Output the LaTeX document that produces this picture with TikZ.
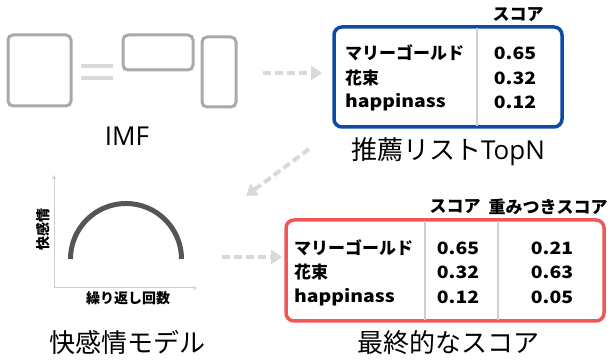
\documentclass[tikz,border=0pt]{standalone}
\usepackage{fontspec}
\setmainfont{Noto Sans CJK JP}
\newfontfamily\lat{Open Sans}
\newfontfamily\latb[FakeStretch=1.14]{Noto Sans CJK JP}
\usetikzlibrary{arrows.meta}
\definecolor{imfgray}{HTML}{A9A9A9}
\definecolor{arrgray}{HTML}{D9D9D9}
\definecolor{axisgray}{HTML}{CFCFCF}
\definecolor{arcgray}{HTML}{555555}
\definecolor{bluebox}{HTML}{0D4AA6}
\definecolor{redbox}{HTML}{F05757}
\definecolor{divgray}{HTML}{D0D0D0}
\tikzset{
  imfbox/.style={draw=imfgray, line width=3pt, rounded corners=5pt},
  eqbar/.style={draw=arrgray, line width=4pt},
  flowarrow/.style={draw=arrgray, line width=4pt, dash pattern=on 8pt off 4pt, -{Triangle[length=11pt,width=14pt,fill=arrgray]}},
  title/.style={font=\fontsize{26}{30}\selectfont, text=black, inner sep=0pt},
  cell/.style={font=\bfseries\fontsize{17}{20}\selectfont, inner sep=0pt},
  lcell/.style={font=\latb\bfseries\fontsize{17}{20}\selectfont, inner sep=0pt},
  axislabel/.style={font=\bfseries\fontsize{14}{16}\selectfont, inner sep=0pt},
  axisline/.style={draw=axisgray, line width=1pt, -{Stealth[length=4pt,width=4pt]}},
  tablebox/.style={line width=3.5pt, rounded corners=8pt},
  divider/.style={draw=divgray, line width=1.2pt}
}
\begin{document}
\begin{tikzpicture}[x=1pt,y=-1pt]
\useasboundingbox (0,0) rectangle (611,363);
% IMF
\draw[imfbox] (8,35) rectangle (71,106);
\draw[eqbar] (81,66) -- (113,66);
\draw[eqbar] (81,78) -- (113,78);
\draw[imfbox] (123,35) rectangle (193,70);
\draw[imfbox] (202,37) rectangle (236,107);
\node[title, font=\lat\fontsize{26}{30}\selectfont] (imf) at (127,136) {IMF};
% Blue table
\draw[tablebox, draw=bluebox] (334,27) rectangle (562,127);
\draw[divider] (477,28) -- (477,126);
\node[cell] (bh) at (518,15) {スコア};
\node[cell, anchor=west] (b1) at (345,53) {マリーゴールド};
\node[cell, anchor=west] (b2) at (345,78) {花束};
\node[lcell, anchor=west] (b3) at (345,102) {happinass};
\node[lcell] (b1v) at (515,53) {0.65};
\node[lcell] (b2v) at (515,78) {0.32};
\node[lcell] (b3v) at (515,102) {0.12};
\node[title] (topn) at (448,152) {推薦リスト{\lat TopN}};
% Graph
\coordinate (orig) at (54,288);
\coordinate (ytop) at (54,175);
\coordinate (xend) at (197,288);
\draw[axisline] (orig) -- (ytop);
\draw[axisline] (orig) -- (xend);
\draw[draw=arcgray, line width=5pt] (70.5,259) arc[start angle=180, end angle=360, radius=55.5];
\node[axislabel, rotate=90] (ylab) at (43,230) {快感情};
\node[axislabel] (xlab) at (128,298) {繰り返し回数};
\node[title] (model) at (127,343) {快感情モデル};
% Red table
\draw[tablebox, draw=redbox] (286,220) rectangle (604,321);
\draw[divider] (425,221) -- (425,320);
\draw[divider] (498,221) -- (498,320);
\node[cell] (rh1) at (455,207) {スコア};
\node[cell] (rh2) at (548,207) {重みつきスコア};
\node[cell, anchor=west] (r1) at (294,248) {マリーゴールド};
\node[cell, anchor=west] (r2) at (294,272) {花束};
\node[lcell, anchor=west] (r3) at (294,297) {happinass};
\node[lcell] (r1v) at (458,248) {0.65};
\node[lcell] (r2v) at (458,272) {0.32};
\node[lcell] (r3v) at (458,297) {0.12};
\node[lcell] (r1w) at (552,248) {0.21};
\node[lcell] (r2w) at (552,272) {0.63};
\node[lcell] (r3w) at (552,297) {0.05};
\node[title] (final) at (448,343) {最終的なスコア};
% Arrows
\coordinate (a1s) at (263,73);
\coordinate (a1e) at (322,73);
\coordinate (a2s) at (309,149);
\coordinate (a2e) at (246,196);
\coordinate (a3s) at (222,257);
\coordinate (a3e) at (282,257);
\draw[flowarrow] (a1s) -- (a1e);
\draw[flowarrow] (a2s) -- (a2e);
\draw[flowarrow] (a3s) -- (a3e);
\end{tikzpicture}
\end{document}
